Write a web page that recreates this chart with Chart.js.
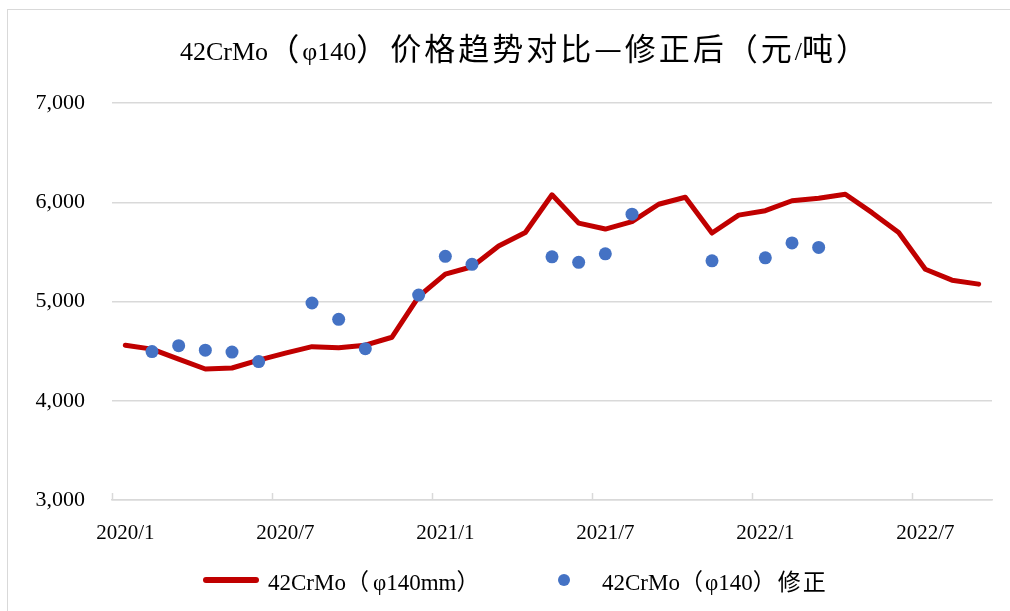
<!DOCTYPE html>
<html>
<head>
<meta charset="utf-8">
<script src="https://cdn.jsdelivr.net/npm/chart.js@4.4.1/dist/chart.umd.min.js"></script>
<style>
  html, body { margin: 0; padding: 0; background: #fff; overflow: hidden; }
  #wrap { position: relative; width: 1010px; height: 611px; }
  #frame { position: absolute; left: 7px; top: 9px; width: 1100px; height: 700px; border: 1px solid #d9d9d9; pointer-events: none; }
  #titulo { position: absolute; left: 180px; top: 29px; height: 36px; line-height: 36px; white-space: nowrap; color: #000; }
  #legend { position: absolute; top: 566px; left: 0; width: 1010px; height: 28px; color: #000; }
  #legend .item { position: absolute; top: 0; white-space: nowrap; line-height: 28px; }
  #legend .swatch { position: absolute; }
  .lat { font-family: 'Liberation Serif', 'Times New Roman', serif; }
  .cjk { font-family: 'Noto Sans CJK SC', sans-serif; }
</style>
</head>
<body>
<div id="wrap">
  <canvas id="precoChart" width="1010" height="611"></canvas>
  <div id="frame"></div>
  <div id="titulo"></div>
  <div id="legend"></div>
</div>
<script>
// dados
const meses = ['2020/1', '2020/2', '2020/3', '2020/4', '2020/5', '2020/6', '2020/7', '2020/8', '2020/9', '2020/10', '2020/11', '2020/12',
  '2021/1', '2021/2', '2021/3', '2021/4', '2021/5', '2021/6', '2021/7', '2021/8', '2021/9', '2021/10', '2021/11', '2021/12',
  '2022/1', '2022/2', '2022/3', '2022/4', '2022/5', '2022/6', '2022/7', '2022/8', '2022/9'];

const preco140mm = [4560, 4520, 4420, 4320, 4330, 4410, 4480, 4545, 4535, 4560, 4640, 5050,
  5275, 5350, 5560, 5695, 6075, 5790, 5730, 5805, 5980, 6050, 5690, 5870,
  5915, 6015, 6040, 6080, 5895, 5695, 5325, 5215, 5175];

const precoCorrigido = [null, 4495, 4555, 4510, 4490, 4395, null, 4985, 4820, 4525, null, 5065,
  5455, 5375, null, null, 5450, 5395, 5480, 5880, null, null, 5410, null,
  5440, 5590, 5545, null, null, null, null, null, null];

const yTicks = [3000, 4000, 5000, 6000, 7000];

const titulo = '42CrMo（φ140）价格趋势对比—修正后（元/吨）';
const nomeLinha = '42CrMo（φ140mm）';
const nomePontos = '42CrMo（φ140）修正';

const fonte = "'Liberation Serif', 'Times New Roman', 'Noto Sans CJK SC', serif";
const corLinha = '#c00000';
const corPontos = '#4472c4';
const corGrade = '#d9d9d9';

// tracinhos do eixo x (para dentro, a cada 6 meses)
const marcasX = {
  id: 'marcasX',
  afterDraw(chart) {
    const sx = chart.scales.x;
    const ctx = chart.ctx;
    const w = (sx.right - sx.left) / meses.length;
    ctx.save();
    ctx.strokeStyle = corGrade;
    ctx.lineWidth = 1.5;
    for (let i = 0; i < meses.length; i += 6) {
      const x = Math.round(sx.left + w * i) + 0.5;
      ctx.beginPath();
      ctx.moveTo(x, sx.top);
      ctx.lineTo(x, sx.top - 7);
      ctx.stroke();
    }
    ctx.restore();
  }
};

const ctxPreco = document.getElementById('precoChart');
new Chart(ctxPreco, {
  type: 'line',
  data: {
    labels: meses,
    datasets: [
      {
        label: nomeLinha,
        data: preco140mm,
        borderColor: corLinha,
        backgroundColor: corLinha,
        borderWidth: 5,
        pointRadius: 0,
        tension: 0,
        borderCapStyle: 'round',
        borderJoinStyle: 'round',
        fill: false,
        order: 2
      },
      {
        label: nomePontos,
        data: precoCorrigido,
        showLine: false,
        pointRadius: 6.5,
        pointHoverRadius: 6.5,
        pointBackgroundColor: corPontos,
        pointBorderWidth: 0,
        borderColor: corPontos,
        backgroundColor: corPontos,
        order: 1
      }
    ]
  },
  options: {
    responsive: false,
    animation: false,
    spanGaps: false,
    layout: { padding: { left: 0, right: 18, top: 103, bottom: 0 } },
    plugins: {
      legend: { display: false },
      tooltip: { enabled: false },
      title: { display: false }
    },
    scales: {
      x: {
        offset: true,
        grid: { display: false, offset: true },
        border: { display: true, color: corGrade, width: 1.5 },
        ticks: {
          autoSkip: false,
          maxRotation: 0,
          padding: 13,
          color: '#000',
          font: { family: fonte, size: 21 },
          callback: (v, i) => (i % 6 === 0 ? meses[i] : '')
        },
        afterFit: (s) => { s.height = 111; }
      },
      y: {
        min: 3000,
        max: 7000,
        afterBuildTicks: (s) => { s.ticks = yTicks.map(v => ({ value: v })); },
        grid: { color: corGrade, lineWidth: 1.5, drawTicks: false },
        border: { display: false },
        ticks: {
          padding: 27,
          color: '#000',
          font: { family: fonte, size: 22 },
          callback: (v) => v.toLocaleString('en-US')
        },
        afterFit: (s) => { s.width = 112; }
      }
    }
  },
  plugins: [marcasX]
});

// texto misto: latim em Times, chinês em CJK com espaçamento
function textoMisto(el, texto, tamLat, tamCjk, espaco) {
  const partes = texto.match(/[\u2014\u3000-\u9fff\uff00-\uffef]+|[^\u2014\u3000-\u9fff\uff00-\uffef]+/g);
  partes.forEach(p => {
    const s = document.createElement('span');
    const cjk = /[\u2014\u3000-\u9fff\uff00-\uffef]/.test(p);
    s.className = cjk ? 'cjk' : 'lat';
    s.style.fontSize = (cjk ? tamCjk : tamLat) + 'px';
    if (cjk) s.style.letterSpacing = espaco + 'px';
    s.textContent = p;
    el.appendChild(s);
  });
}

textoMisto(document.getElementById('titulo'), titulo, 26, 31, 3);

// legenda
const legenda = document.getElementById('legend');
legenda.innerHTML =
  '<div class="swatch" style="left:203px;top:11px;width:56px;height:6px;border-radius:3px;background:' + corLinha + '"></div>' +
  '<div class="item" style="left:268px"></div>' +
  '<div class="swatch" style="left:558px;top:8px;width:12px;height:12px;border-radius:6px;background:' + corPontos + '"></div>' +
  '<div class="item" style="left:602px"></div>';
const itens = legenda.querySelectorAll('.item');
textoMisto(itens[0], nomeLinha, 23, 23, 4);
textoMisto(itens[1], nomePontos, 23, 23, 2);
</script>
</body>
</html>
